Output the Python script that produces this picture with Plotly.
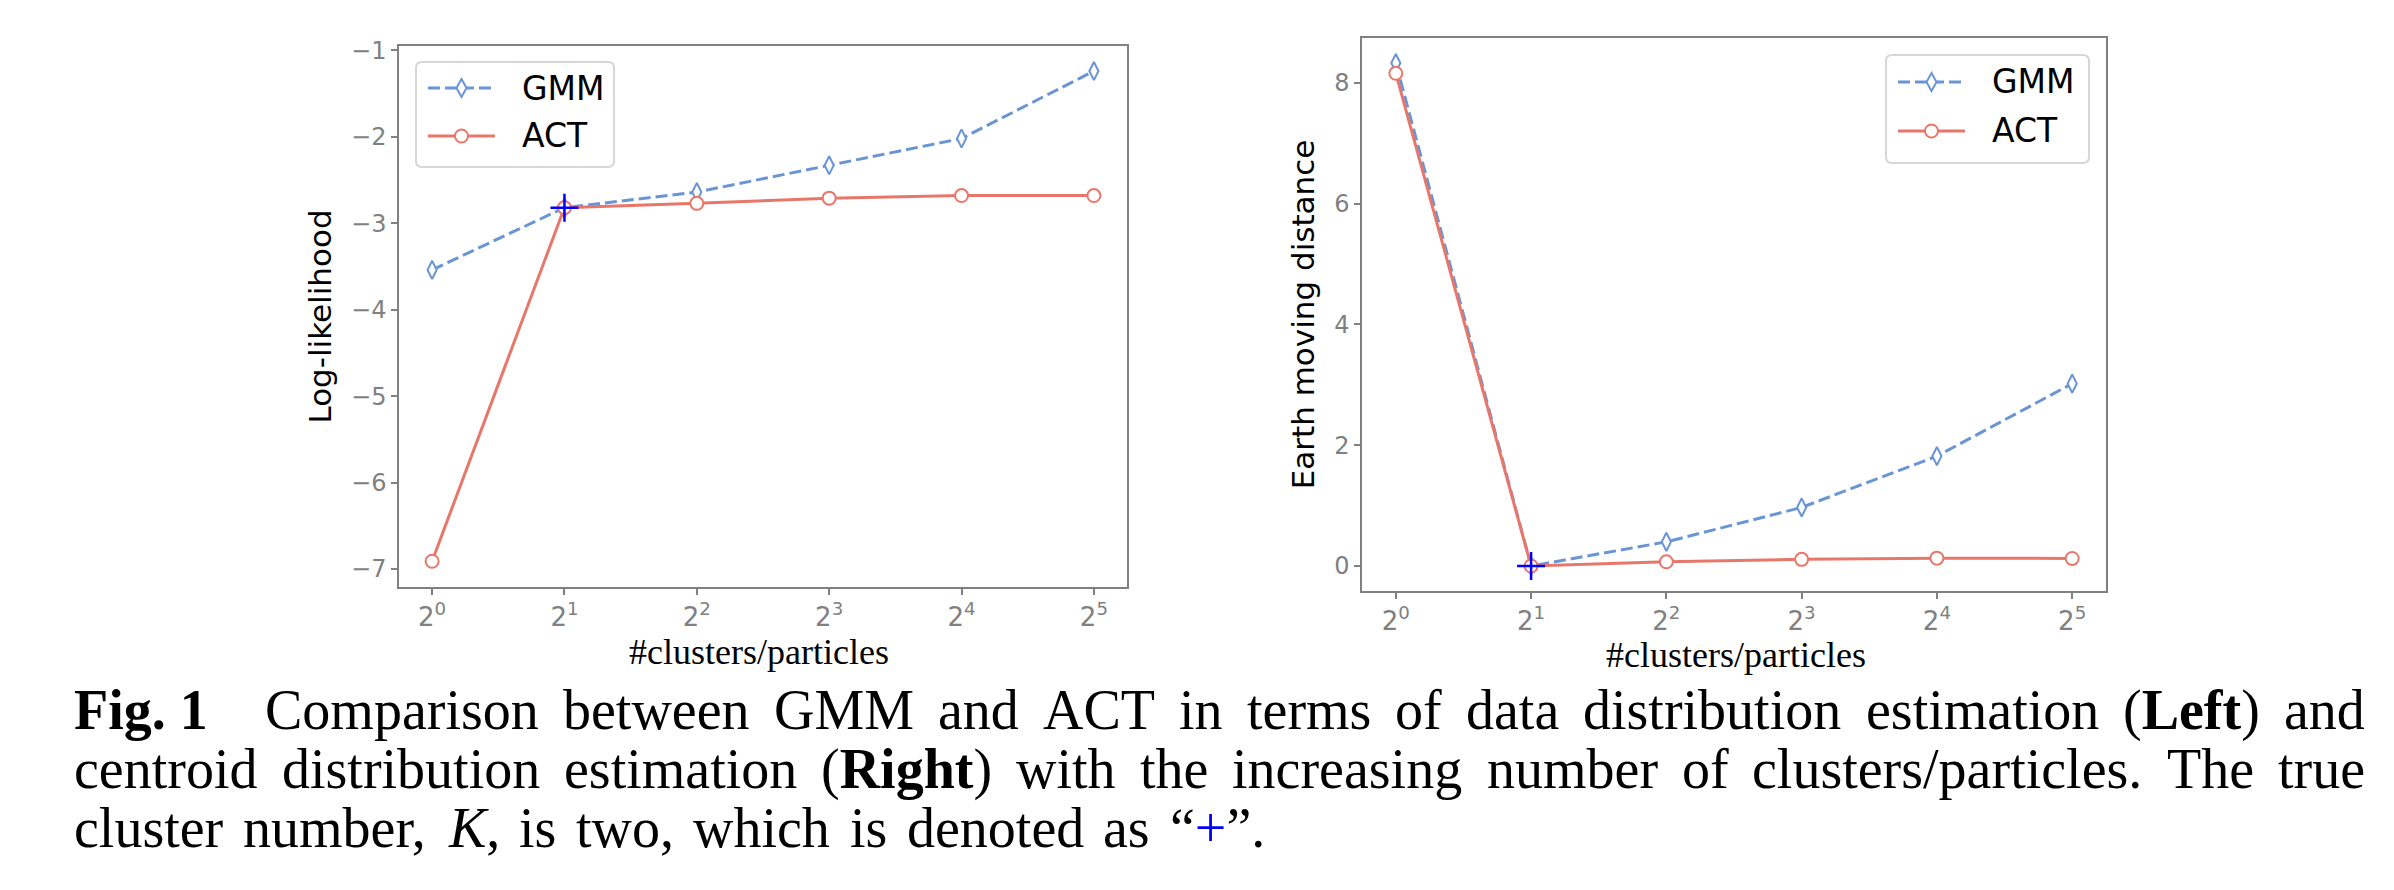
import math
import plotly.graph_objects as go

W, H = 2394, 890

# ---------------- data ----------------
n_clusters = [1, 2, 4, 8, 16, 32]
tick_labels = ["2<sup>0</sup>", "2<sup>1</sup>", "2<sup>2</sup>", "2<sup>3</sup>", "2<sup>4</sup>", "2<sup>5</sup>"]
ll_gmm = [-3.54, -2.82, -2.64, -2.33, -2.02, -1.24]
ll_act = [-6.91, -2.82, -2.77, -2.71, -2.68, -2.68]
emd_gmm = [8.33, 0.0, 0.40, 0.97, 1.82, 3.02]
emd_act = [8.16, 0.0, 0.07, 0.11, 0.13, 0.125]
true_k = 2
ll_ticks = [-7, -6, -5, -4, -3, -2, -1]
emd_ticks = [0, 2, 4, 6, 8]
series_names = ["GMM", "ACT"]
x_title = "#clusters/particles"

BLUE = "#6a95d5"
RED = "#e8776b"
GRAY = "#808080"
DASH = "12px,5px"


def px(x):
    return x / W


def py(y):
    return 1 - y / H


fig = go.Figure()

panels = [("x", "y", ll_gmm, ll_act), ("x2", "y2", emd_gmm, emd_act)]
k_idx = n_clusters.index(true_k)
for xa, ya, gmm, act in panels:
    fig.add_trace(go.Scatter(
        x=n_clusters, y=gmm, xaxis=xa, yaxis=ya, mode="lines+markers", name=series_names[0],
        line=dict(color=BLUE, width=3, dash=DASH),
        marker=dict(symbol="diamond-tall", size=13, color="white", line=dict(color=BLUE, width=2)),
        showlegend=False))
    fig.add_trace(go.Scatter(
        x=n_clusters, y=act, xaxis=xa, yaxis=ya, mode="lines+markers", name=series_names[1],
        line=dict(color=RED, width=3),
        marker=dict(symbol="circle", size=13, color="white", line=dict(color=RED, width=2)),
        showlegend=False))
    fig.add_trace(go.Scatter(
        x=[true_k], y=[act[k_idx]], xaxis=xa, yaxis=ya, mode="markers",
        marker=dict(symbol="cross-thin-open", size=20, color="#0000ff", line=dict(color="#0000ff", width=2.5)),
        showlegend=False, hoverinfo="skip"))

axis_common = dict(
    showline=True, linecolor=GRAY, linewidth=1.5, mirror=True,
    ticks="outside", ticklen=6, tickwidth=1.5, tickcolor=GRAY,
    showgrid=False, zeroline=False, automargin=False,
)
xrange = [-0.25 * math.log10(2), 5.25 * math.log10(2)]
xaxis_common = dict(
    axis_common, type="log", range=xrange, tickmode="array",
    tickvals=n_clusters, ticktext=tick_labels,
    tickfont=dict(family="DejaVu Sans", size=26, color=GRAY),
)
ytick_font = dict(family="DejaVu Sans", size=24, color=GRAY)
ytitle_font = dict(family="DejaVu Sans", size=31, color="black")

fig.update_layout(
    width=W, height=H,
    margin=dict(l=0, r=0, t=0, b=0),
    paper_bgcolor="white", plot_bgcolor="white",
    showlegend=False,
    xaxis=dict(xaxis_common, domain=[px(399), px(1127)], anchor="y"),
    yaxis=dict(axis_common, domain=[py(587), py(46)], anchor="x", range=[-7.208, -0.95],
               tickvals=ll_ticks, ticktext=["\u2212" + str(abs(v)) for v in ll_ticks], tickfont=ytick_font,
               title=dict(text="Log-likelihood", font=ytitle_font, standoff=10)),
    xaxis2=dict(xaxis_common, domain=[px(1362), px(2106)], anchor="y2"),
    yaxis2=dict(axis_common, domain=[py(591), py(38)], anchor="x2", range=[-0.414, 8.745],
                tickvals=emd_ticks, tickfont=ytick_font,
                title=dict(text="Earth moving distance", font=ytitle_font, standoff=10)),
)

# x-axis titles (serif, placed just under the tick labels)
for cx, cy in ((759, 652), (1736, 655)):
    fig.add_annotation(x=px(cx), y=py(cy), xref="paper", yref="paper", text=x_title,
                       showarrow=False, xanchor="center", yanchor="middle", borderpad=0,
                       font=dict(family="Liberation Serif", size=36, color="black"))


# ---------------- custom legends ----------------
def rounded_rect(x0, y0, x1, y1, r=6):
    def P(x, y):
        return f"{px(x):.6f},{py(y):.6f}"
    return (f"M {P(x0 + r, y0)} L {P(x1 - r, y0)} Q {P(x1, y0)} {P(x1, y0 + r)} "
            f"L {P(x1, y1 - r)} Q {P(x1, y1)} {P(x1 - r, y1)} L {P(x0 + r, y1)} "
            f"Q {P(x0, y1)} {P(x0, y1 - r)} L {P(x0, y0 + r)} Q {P(x0, y0)} {P(x0 + r, y0)} Z")


def add_legend(x0, y0, w, h, row_off):
    fig.add_shape(type="path", path=rounded_rect(x0, y0, x0 + w, y0 + h), xref="paper", yref="paper",
                  line=dict(color="#d6d6d6", width=2), fillcolor="white", layer="above")
    styles = [(BLUE, DASH, "diamond"), (RED, "solid", "circle")]
    for i, (name, (col, dash, sym)) in enumerate(zip(series_names, styles)):
        yy = y0 + row_off[i]
        fig.add_shape(type="line", xref="paper", yref="paper",
                      x0=px(x0 + 12), x1=px(x0 + 79), y0=py(yy), y1=py(yy),
                      line=dict(color=col, width=3, dash=dash), layer="above")
        cx = x0 + 45.5
        if sym == "circle":
            fig.add_shape(type="circle", xref="paper", yref="paper",
                          x0=px(cx - 6.5), x1=px(cx + 6.5), y0=py(yy + 6.5), y1=py(yy - 6.5),
                          line=dict(color=col, width=2), fillcolor="white", layer="above")
        else:
            path = (f"M {px(cx):.6f},{py(yy - 9):.6f} L {px(cx + 5):.6f},{py(yy):.6f} "
                    f"L {px(cx):.6f},{py(yy + 9):.6f} L {px(cx - 5):.6f},{py(yy):.6f} Z")
            fig.add_shape(type="path", path=path, xref="paper", yref="paper",
                          line=dict(color=col, width=2), fillcolor="white", layer="above")
        fig.add_annotation(x=px(x0 + 105), y=py(yy), xref="paper", yref="paper", text=name,
                           showarrow=False, xanchor="left", yanchor="middle", borderpad=0,
                           font=dict(family="DejaVu Sans", size=33, color="black"))


add_legend(416, 62, 198, 105, [26, 74])
add_legend(1886, 55, 203, 108, [27, 76])

# ---------------- caption (justified with Times metrics) ----------------
TR = dict(zip("abcdefghijklmnopqrstuvwxyz",
              [444, 500, 444, 500, 444, 333, 500, 500, 278, 278, 500, 278, 778, 500, 500, 500, 500, 333, 389, 278, 500, 500, 722, 500, 500, 444]))
TR.update(dict(zip("ABCDEFGHIJKLMNOPQRSTUVWXYZ",
                   [722, 667, 667, 722, 611, 556, 722, 722, 333, 389, 722, 611, 889, 722, 722, 556, 722, 667, 556, 611, 722, 722, 944, 722, 722, 611])))
TR.update({" ": 250, ".": 250, ",": 250, "(": 333, ")": 333, "/": 278, "+": 564, "\u201c": 444, "\u201d": 444, "-": 333})
for d in "0123456789":
    TR[d] = 500
TB = dict(TR)
TB.update({"F": 611, "L": 667, "R": 722, "h": 556, "t": 333, "b": 556, "d": 556, "a": 500})
TI = dict(TR)
TI.update({"K": 667})

CAP_FS = 56
CAP_FONT = "Liberation Serif"

cap_line1 = [[("Fig. 1", "b")], [("Comparison", "r")], [("between", "r")], [("GMM", "r")], [("and", "r")],
             [("ACT", "r")], [("in", "r")], [("terms", "r")], [("of", "r")], [("data", "r")],
             [("distribution", "r")], [("estimation", "r")], [("(", "r"), ("Left", "b"), (")", "r")], [("and", "r")]]
cap_line2 = [[("centroid", "r")], [("distribution", "r")], [("estimation", "r")],
             [("(", "r"), ("Right", "b"), (")", "r")], [("with", "r")], [("the", "r")], [("increasing", "r")],
             [("number", "r")], [("of", "r")], [("clusters/particles.", "r")], [("The", "r")], [("true", "r")]]
cap_line3 = [[("cluster", "r")], [("number,", "r")], [("K", "i"), (",", "r")], [("is", "r")], [("two,", "r")],
             [("which", "r")], [("is", "r")], [("denoted", "r")], [("as", "r")],
             [("\u201c", "r"), ("+", "blue"), ("\u201d.", "r")]]


def word_width(runs):
    tot = 0
    for text, st in runs:
        tbl = TB if st == "b" else (TI if st == "i" else TR)
        tot += sum(tbl.get(c, 500) for c in text)
    return tot / 1000 * CAP_FS


def word_html(runs):
    out = ""
    for text, st in runs:
        if st == "b":
            out += f"<b>{text}</b>"
        elif st == "i":
            out += f"<i>{text}</i>"
        elif st == "blue":
            out += f"<span style='color:#0000ff'>{text}</span>"
        else:
            out += text
    return out


def place_line(words, x_left, x_right, baseline, extra_first=0.0):
    widths = [word_width(w) for w in words]
    widths[0] += extra_first
    gap = (x_right - x_left - sum(widths)) / (len(words) - 1)
    x = x_left
    for w, wd in zip(words, widths):
        fig.add_annotation(x=px(x), y=py(baseline - 0.3375 * CAP_FS), xref="paper", yref="paper",
                           text=word_html(w), showarrow=False, xanchor="left", yanchor="middle",
                           borderpad=0, font=dict(family=CAP_FONT, size=CAP_FS, color="black"))
        x += wd + gap


place_line(cap_line1, 73, 2364, 729, extra_first=0.6 * CAP_FS)
place_line(cap_line2, 73, 2364, 788)
place_line(cap_line3, 73, 1264, 847)

fig.write_html("out.html")
